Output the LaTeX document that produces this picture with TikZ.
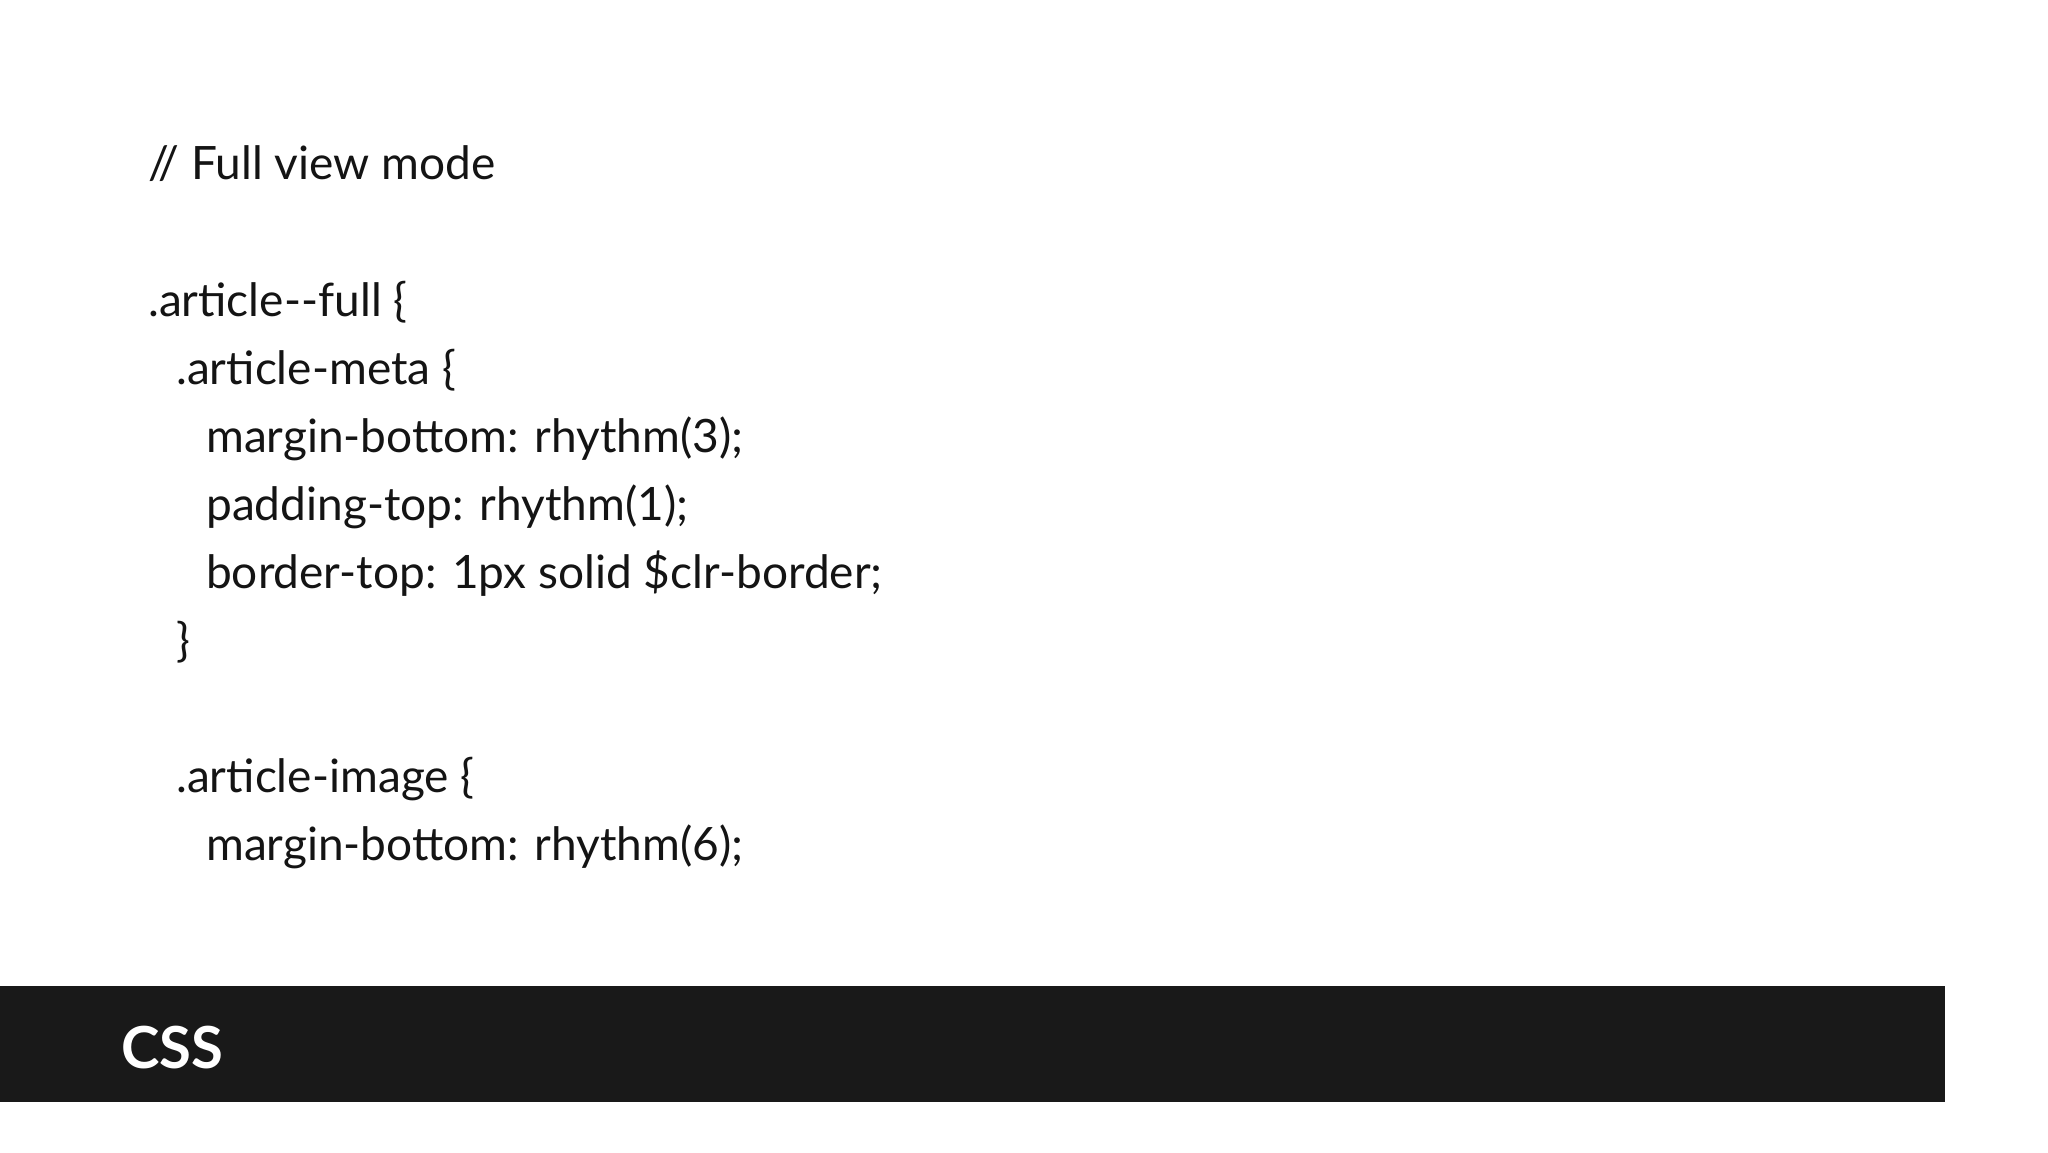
\documentclass[tikz,border=0pt]{standalone}
\usepackage{fontspec}
\setmainfont{Lato}
\begin{document}
\begin{tikzpicture}[x=1pt,y=-1pt,
  code/.style={anchor=base west,inner sep=0pt,font=\fontsize{46}{50}\selectfont,text=black!92}]
\useasboundingbox (0,0) rectangle (2048,1152);
\fill[white] (0,0) rectangle (2048,1152);
\fill[black!90] (0,986) rectangle (1945,1102);
\node[anchor=base west,inner sep=0pt,text=white,font=\fontsize{58}{60}\selectfont\bfseries] (css) at (121,1068) {CSS};
\node[code] (l1) at (148,179) {// Full view mode};
\node[code] (l2) at (148,316) {.article-{}-full \{};
\node[code] (l3) at (176,384) {.article-meta \{};
\node[code] (l4) at (206,452) {margin-bottom: rhythm(3);};
\node[code] (l5) at (206,520) {padding-top: rhythm(1);};
\node[code] (l6) at (206,588) {border-top: 1px solid \$clr-border;};
\node[code] (l7) at (176,656) {\}};
\node[code] (l8) at (176,792) {.article-image \{};
\node[code] (l9) at (206,860) {margin-bottom: rhythm(6);};
\end{tikzpicture}
\end{document}
